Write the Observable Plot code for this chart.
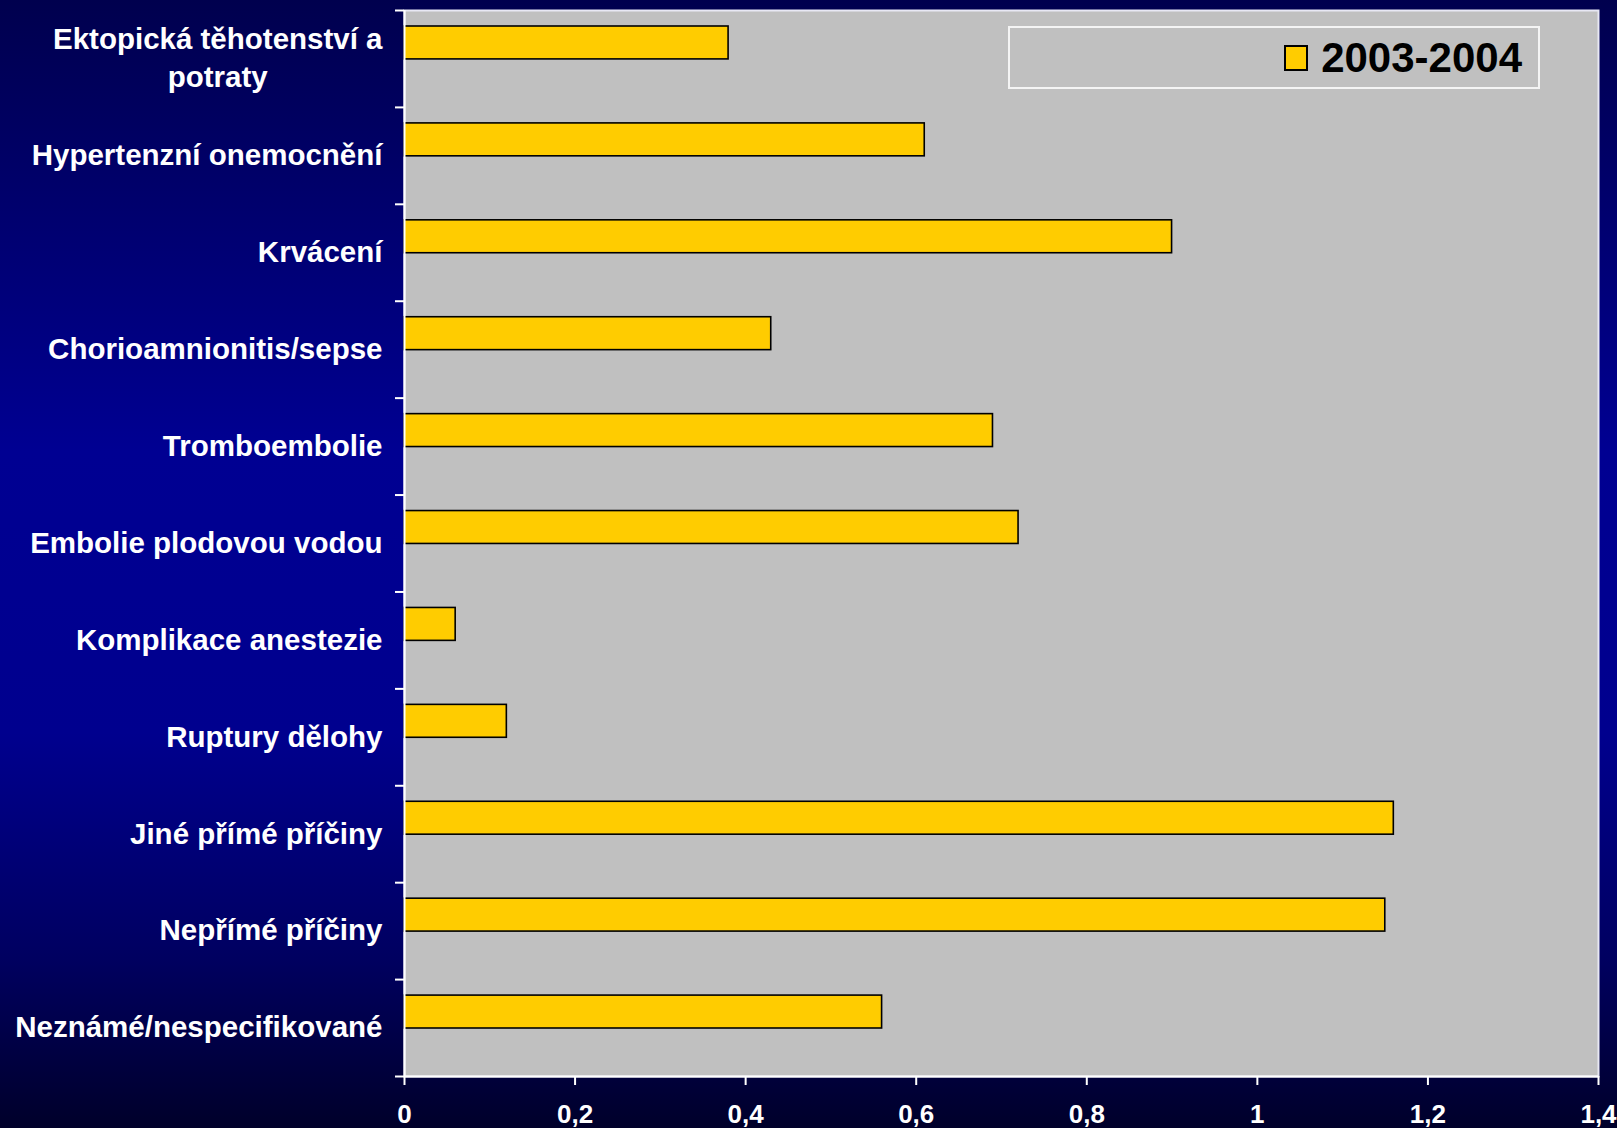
<!DOCTYPE html>
<html>
<head>
<meta charset="utf-8">
<script src="https://cdn.jsdelivr.net/npm/d3@7"></script>
<script src="https://cdn.jsdelivr.net/npm/@observablehq/plot@0.6"></script>
<style>
  html, body { margin: 0; padding: 0; }
  body {
    width: 1617px; height: 1128px; overflow: hidden;
    background: linear-gradient(to bottom, #00004e 0%, #000092 40%, #00008e 65%, #000060 85%, #00002a 100%);
    font-family: "Liberation Sans", Arial, sans-serif;
  }
  #wrap { position: relative; width: 1617px; height: 1128px; }
  #legend {
    position: absolute; left: 1008px; top: 26px; width: 532px; height: 63px;
    border: 2px solid #f4f4f4; display: flex; align-items: center; justify-content: flex-end;
    padding-right: 16px; box-sizing: border-box;
  }
  #legend .sw { width: 20px; height: 22px; background: #ffcc00; border: 2px solid #000; margin-right: 13px; }
  #legend .lb { font-weight: bold; font-size: 42px; color: #000; line-height: 1; }
</style>
</head>
<body>
<div id="wrap"></div>
<script>
const categories = [
  "Ektopická těhotenství a\npotraty",
  "Hypertenzní onemocnění",
  "Krvácení",
  "Chorioamnionitis/sepse",
  "Tromboembolie",
  "Embolie plodovou vodou",
  "Komplikace anestezie",
  "Ruptury dělohy",
  "Jiné přímé příčiny",
  "Nepřímé příčiny",
  "Neznámé/nespecifikované"
];
const values2003_2004 = [0.38, 0.61, 0.90, 0.43, 0.69, 0.72, 0.06, 0.12, 1.16, 1.15, 0.56];
const seriesName = "2003-2004";
const xTicks = [0, 0.2, 0.4, 0.6, 0.8, 1, 1.2, 1.4];

const data = categories.map((c, i) => ({cat: c, value: values2003_2004[i], i}));
const n = categories.length;

const chart = Plot.plot({
  width: 1617,
  height: 1128,
  marginLeft: 404,
  marginRight: 19,
  marginTop: 10,
  marginBottom: 52,
  style: {background: "transparent", fontFamily: "'Liberation Sans', Arial, sans-serif", overflow: "visible"},
  x: {type: "linear", domain: [0, 1.4]},
  y: {type: "linear", domain: [0, n], reverse: true},
  marks: [
    Plot.frame({fill: "#c0c0c0", stroke: "#e8e8f4", strokeWidth: 2}),
    Plot.rect(data, {
      x1: () => 0, x2: "value", y1: "i", y2: d => d.i + 1,
      insetTop: 16, insetBottom: 48,
      fill: "#ffcc00", stroke: "#000", strokeWidth: 1.6
    }),
    Plot.ruleX([0], {stroke: "#ffffff", strokeWidth: 2}),
    Plot.ruleY([n], {stroke: "#ffffff", strokeWidth: 2}),
    Plot.axisY({
      ticks: d3.range(n + 1), tickFormat: () => "", tickSize: 9,
      stroke: "#ffffff", strokeWidth: 2, label: null
    }),
    Plot.text(data, {
      x: () => 0, y: d => d.i + 0.5, text: "cat",
      textAnchor: "end", dx: -22, dy: -3, fill: "#ffffff",
      fontWeight: "bold", fontSize: 29.5, lineHeight: 1.3
    }),
    Plot.axisX({
      ticks: xTicks, tickFormat: d => String(+d.toFixed(1)).replace(".", ","),
      tickSize: 9, tickPadding: 19, stroke: "#ffffff", strokeWidth: 2,
      fill: "#ffffff", fontWeight: "bold", fontSize: 26, label: null
    })
  ]
});

const wrap = document.getElementById("wrap");
wrap.appendChild(chart);

// center the second line of the two-line label under the first line
chart.querySelectorAll("text").forEach(t => {
  const sp = t.querySelectorAll("tspan");
  if (sp.length === 2) {
    const w = sp[0].getComputedTextLength();
    sp[1].setAttribute("x", -w / 2);
    sp[1].setAttribute("text-anchor", "middle");
  }
});

const legend = document.createElement("div");
legend.id = "legend";
legend.innerHTML = `<div class="sw"></div><div class="lb">${seriesName}</div>`;
wrap.appendChild(legend);
</script>
</body>
</html>
